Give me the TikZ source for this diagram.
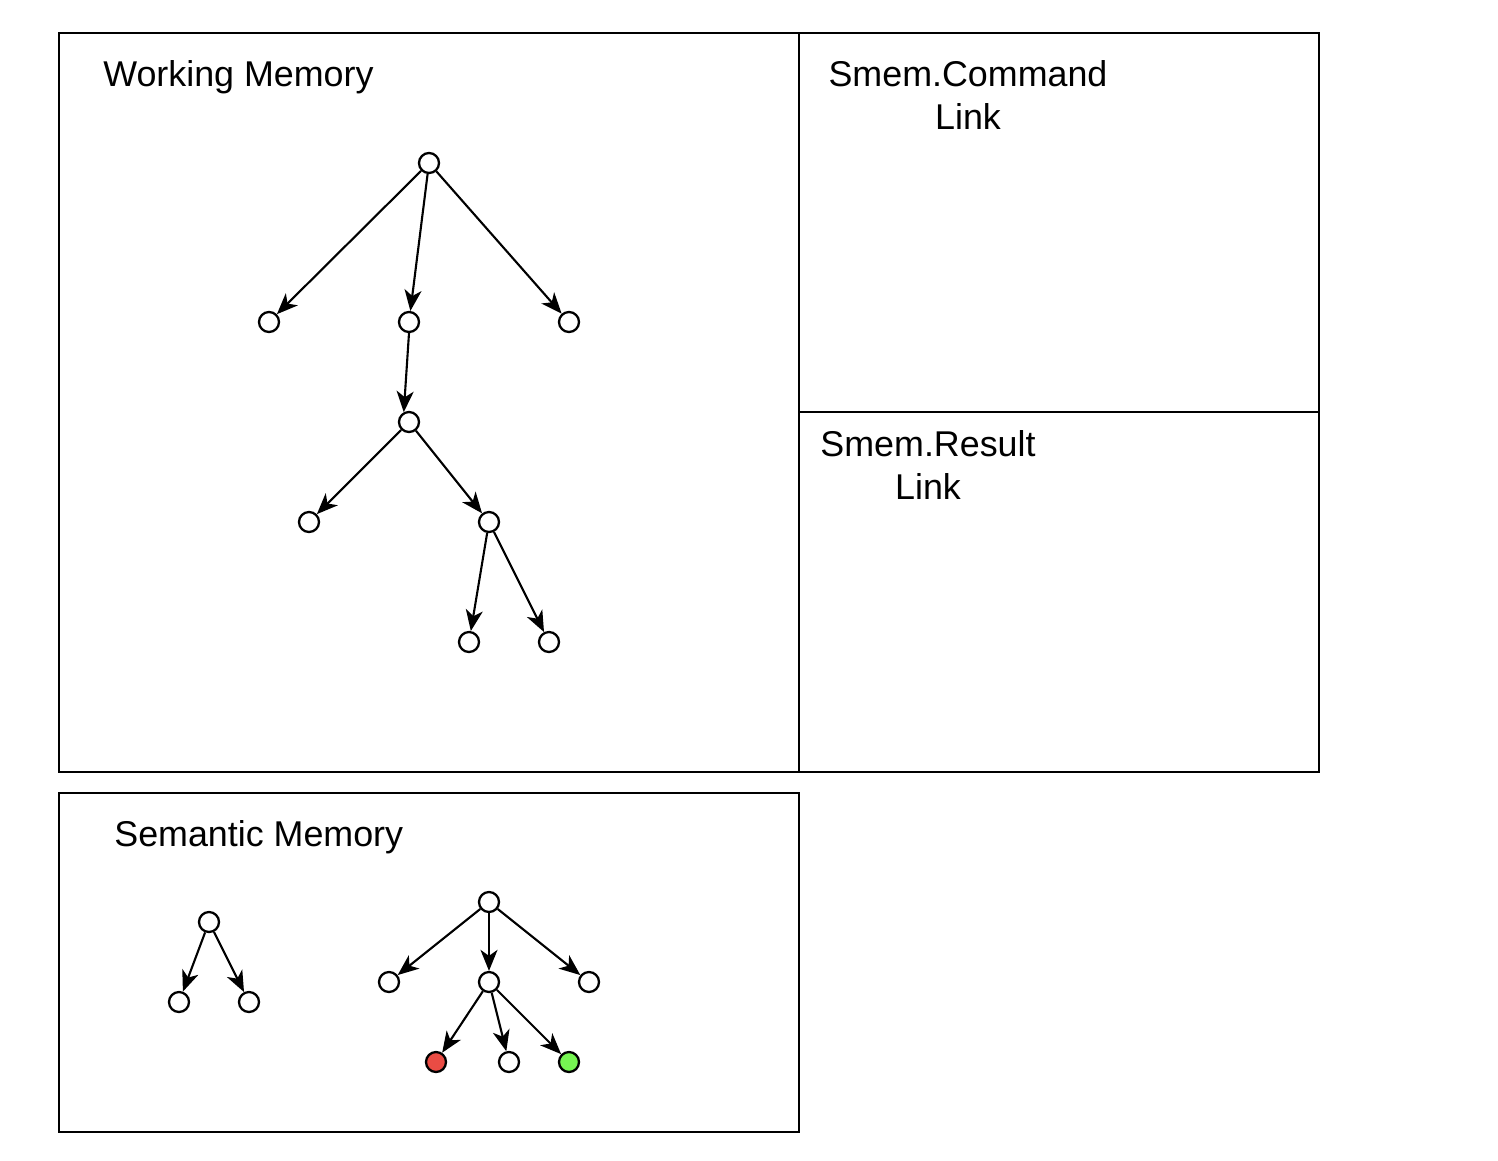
\documentclass[tikz,border=0pt]{standalone}
\usepackage{fontspec}
\setmainfont{Liberation Sans}
\usetikzlibrary{arrows.meta}
\definecolor{smred}{RGB}{234,76,68}
\definecolor{smgreen}{RGB}{118,245,82}
\tikzset{
  wme/.style={circle,draw,fill=white,line width=1.3pt,minimum size=0.4cm,inner sep=0pt},
  arr/.style={-{Stealth[length=0.42cm,width=0.34cm,inset=0.12cm]},line width=1.2pt},
  panel/.style={draw,line width=1.1pt},
  title/.style={anchor=base west,inner sep=0pt,font=\fontsize{20.4}{24}\selectfont},
  ctitle/.style={anchor=base,inner sep=0pt,font=\fontsize{20.4}{24}\selectfont}
}
\begin{document}
\begin{tikzpicture}[x=0.02cm,y=-0.02cm]
    \useasboundingbox (0,0) rectangle (1498,1160);
    % panels
    \draw[panel] (59,33) rectangle (799,772);
    \draw[panel] (799,33) rectangle (1319,412);
    \draw[panel] (799,412) rectangle (1319,772);
    \draw[panel] (59,793) rectangle (799,1132);
    \node[title] (wmtitle) at (103,86) {Working Memory};
    \node[ctitle] (cmdtitle) at (968,86) {Smem.Command};
    \node[ctitle] (cmdlink) at (968,129) {Link};
    \node[ctitle] (restitle) at (928,456) {Smem.Result};
    \node[ctitle] (reslink) at (928,499) {Link};
    \node[title] (smtitle) at (114,846) {Semantic Memory};
    % working memory graph
    \node[wme] (w0) at (429,163) {};
    \node[wme] (w1) at (269,322) {};
    \node[wme] (w2) at (409,322) {};
    \node[wme] (w3) at (569,322) {};
    \node[wme] (w4) at (409,422) {};
    \node[wme] (w5) at (309,522) {};
    \node[wme] (w6) at (489,522) {};
    \node[wme] (w7) at (469,642) {};
    \node[wme] (w8) at (549,642) {};
    \foreach \a/\b in {0/1,0/2,0/3,4/5,4/6,6/7,6/8}
    \draw[arr] (w\a) -- (w\b);
    \draw[arr] (w2.south) -- (w4.118);
    % semantic memory graphs
    \node[wme] (s0) at (209,922) {};
    \node[wme] (s1) at (179,1002) {};
    \node[wme] (s2) at (249,1002) {};
    \node[wme] (t0) at (489,902) {};
    \node[wme] (t1) at (389,982) {};
    \node[wme] (t2) at (489,982) {};
    \node[wme] (t3) at (589,982) {};
    \node[wme,fill=smred] (t4) at (436,1062) {};
    \node[wme] (t5) at (509,1062) {};
    \node[wme,fill=smgreen] (t6) at (569,1062) {};
    \foreach \a/\b in {s0/s1,s0/s2,t0/t1,t0/t2,t0/t3,t2/t4,t2/t5,t2/t6}
    \draw[arr] (\a) -- (\b);
  \end{tikzpicture}
\end{document}
